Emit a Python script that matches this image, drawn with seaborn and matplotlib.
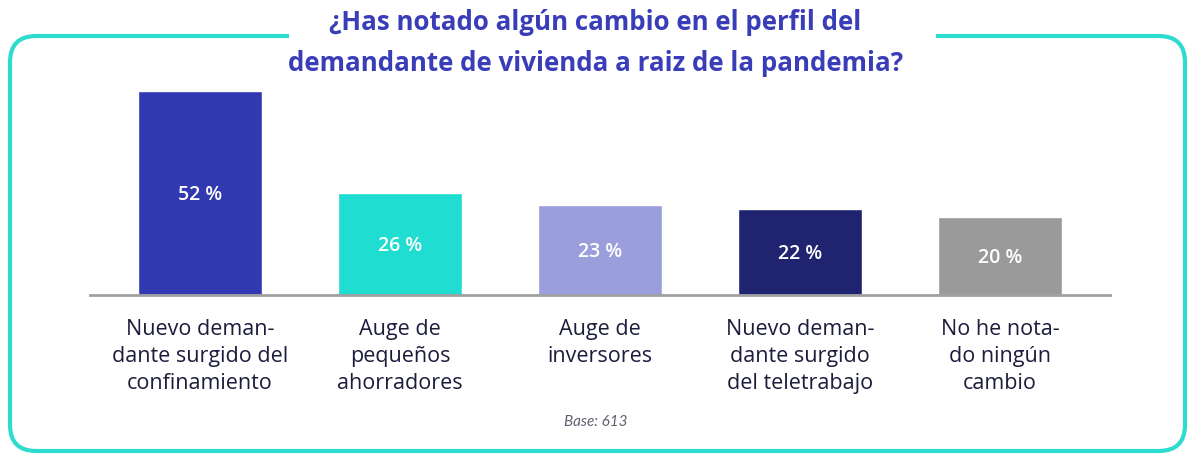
import matplotlib
matplotlib.use("Agg")
import matplotlib.pyplot as plt
import seaborn as sns
import pandas as pd
from matplotlib.patches import FancyBboxPatch, Rectangle

categories = [
    "Nuevo deman-\ndante surgido del\nconfinamiento",
    "Auge de\npequeños\nahorradores",
    "Auge de\ninversores",
    "Nuevo deman-\ndante surgido\ndel teletrabajo",
    "No he nota-\ndo ningún\ncambio",
]
values = [52, 26, 23, 22, 20]
value_labels = ["52 %", "26 %", "23 %", "22 %", "20 %"]
colors = ["#3139B0", "#1FDDD0", "#9A9EDB", "#1F2370", "#9A9A9A"]
title = "¿Has notado algún cambio en el perfil del\ndemandante de vivienda a raiz de la pandemia?"
note = "Base: 613"

W, H = 1191, 455
sns.set_theme(style="white")
plt.rcParams["font.family"] = ["Open Sans", "DejaVu Sans"]

fig = plt.figure(figsize=(W / 100, H / 100), dpi=100)
fig.patch.set_facecolor("white")

def fx(px):
    return px / W

def fy(py):
    return 1 - py / H

# rounded border
border = FancyBboxPatch((fx(10), fy(451)), fx(1185) - fx(10), fy(36) - fy(451),
                        boxstyle="round,pad=0,rounding_size=0.022",
                        transform=fig.transFigure, fill=False,
                        edgecolor="#2EDBCF", linewidth=3.0,
                        mutation_aspect=W / H)
fig.patches.append(border)
gap = Rectangle((fx(289), fy(45)), fx(936) - fx(289), fy(25) - fy(45),
                transform=fig.transFigure, facecolor="white", edgecolor="none", zorder=2)
fig.patches.append(gap)

fig.text(0.5, fy(43), title, ha="center", va="center", fontsize=18.6,
         fontweight="bold", color="#3A3DB8", linespacing=1.65, zorder=3)

ymax = 55
ax = fig.add_axes([fx(90), fy(295), fx(1110) - fx(90), (ymax * 3.92) / H])
df = pd.DataFrame({"cat": categories, "val": values})
sns.barplot(data=df, x="cat", y="val", hue="cat", palette=colors, legend=False,
            width=0.62, saturation=1, ax=ax)
ax.set_xlim(-0.55, 4.55)
ax.set_ylim(0, ymax)
ax.set_yticks([])
ax.set_xlabel("")
ax.set_ylabel("")
for s in ["top", "right", "left"]:
    ax.spines[s].set_visible(False)
ax.spines["bottom"].set_color("#A0A0A0")
ax.spines["bottom"].set_linewidth(2)
ax.set_facecolor("none")
ax.tick_params(axis="x", length=0, pad=17)
ax.set_xticks(range(len(categories)))
ax.set_xticklabels(categories, fontsize=15.5, color="#1C1C3C", linespacing=1.4, va="top")

for i, (v, lab) in enumerate(zip(values, value_labels)):
    ax.text(i, v / 2 - 0.5, lab, ha="center", va="center", color="white",
            fontsize=14, fontweight="semibold")

fig.text(0.5, fy(422), note, ha="center", va="center", fontsize=11,
         fontstyle="italic", color="#5E6270", fontfamily=["Lato", "DejaVu Sans"])

fig.savefig("out.png", dpi=100, facecolor="white")
